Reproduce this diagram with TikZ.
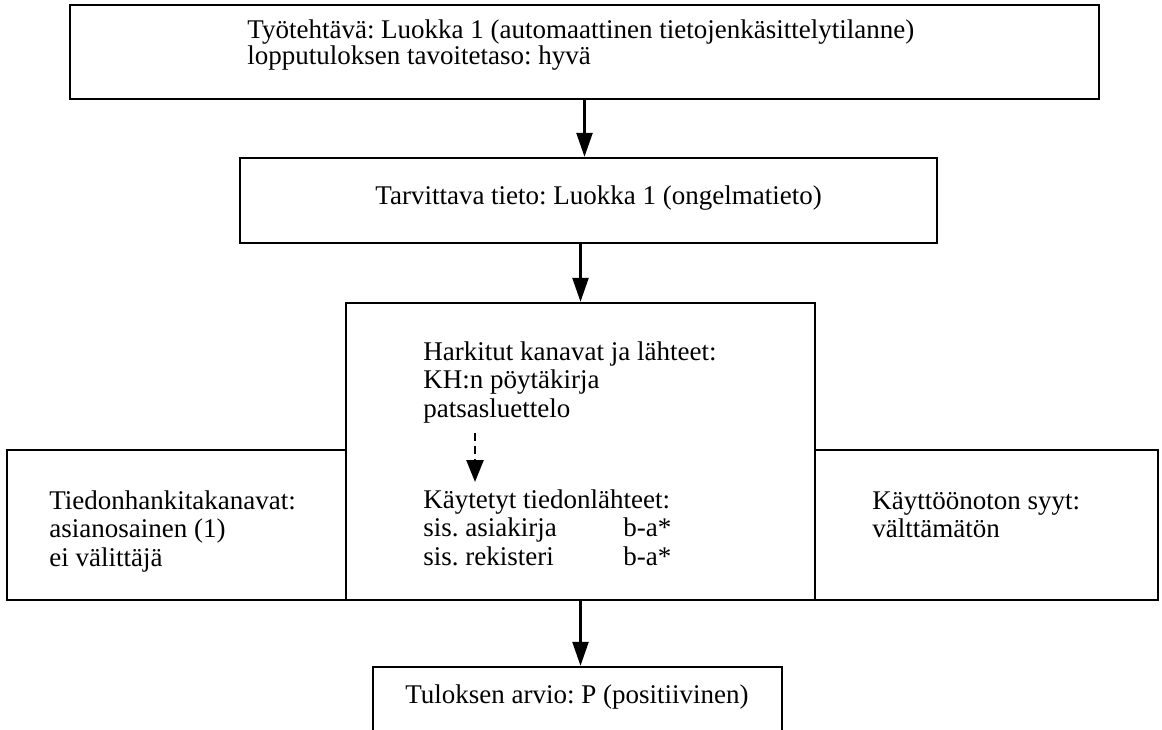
\documentclass[tikz,border=0pt]{standalone}
\usepackage{fontspec}
\setmainfont{Liberation Serif}
\usetikzlibrary{arrows.meta}
\frenchspacing

\tikzset{
  box/.style={draw,line width=1.2pt,inner sep=0pt},
  txt/.style={anchor=base west,inner sep=0pt,font=\fontsize{13.5}{14}\selectfont},
  flow/.style={-{Triangle[length=12pt,width=8pt]},line width=1.2pt},
  dflow/.style={-{Triangle[length=11pt,width=8.5pt]},line width=1.3pt,dash pattern=on 4pt off 2.5pt},
}

\begin{document}
\begin{tikzpicture}[x=0.5pt,y=-0.5pt]
\useasboundingbox (0,0) rectangle (1162,729);
\clip (0,0) rectangle (1162,729);
% laatikot
\node[box,minimum width=514.5pt,minimum height=47pt] (tyo) at (584.5,52) {};
\node[box,minimum width=348.5pt,minimum height=42.5pt] (tieto) at (588.5,200.5) {};
\node[box,minimum width=234.5pt,minimum height=148.5pt] (kan) at (580.5,451.5) {};
\node[box,minimum width=169.5pt,minimum height=75pt] (hank) at (176.5,525) {};
\node[box,minimum width=171.5pt,minimum height=75pt] (syy) at (986.5,525) {};
\node[box,minimum width=204.5pt,minimum height=45pt] (arvio) at (577.5,712) {};
% tekstit
\node[txt] (tyo1) at (247,38) {Työtehtävä: Luokka 1 (automaattinen tietojenkäsittelytilanne)};
\node[txt] (tyo2) at (247,64) {lopputuloksen tavoitetaso: hyvä};
\node[txt] (tieto1) at (375,204) {Tarvittava tieto: Luokka 1 (ongelmatieto)};
\foreach \i/\y/\t in {1/360/{Harkitut kanavat ja lähteet:},2/388/{KH:n pöytäkirja},3/417/patsasluettelo}
  \node[txt] (h\i) at (423,\y) {\t};
\foreach \i/\y/\t in {1/508/{Käytetyt tiedonlähteet:},2/536/{sis. asiakirja},3/565/{sis. rekisteri}}
  \node[txt] (k\i) at (423,\y) {\t};
\foreach \i/\y in {2/536,3/565}
  \node[txt] (ba\i) at (623,\y) {b-a*};
\foreach \i/\y/\t in {1/509/Tiedonhankitakanavat:,2/537/{asianosainen (1)},3/566/{ei välittäjä}}
  \node[txt] (t\i) at (49,\y) {\t};
\foreach \i/\y/\t in {1/509/{Käyttöönoton syyt:},2/537/välttämätön}
  \node[txt] (s\i) at (872,\y) {\t};
\node[txt] (arvio1) at (405,703) {Tuloksen arvio: P (positiivinen)};
% nuolet
\draw[flow] (tyo.south) -- (tyo.south |- tieto.north);
\draw[flow] (kan.north |- tieto.south) -- (kan.north);
\draw[flow] (kan.south) -- (kan.south |- arvio.north);
\draw[dflow] ([xshift=26pt,yshift=-8pt]h3.base west) -- ([xshift=26pt,yshift=13pt]k1.base west);
\end{tikzpicture}
\end{document}
